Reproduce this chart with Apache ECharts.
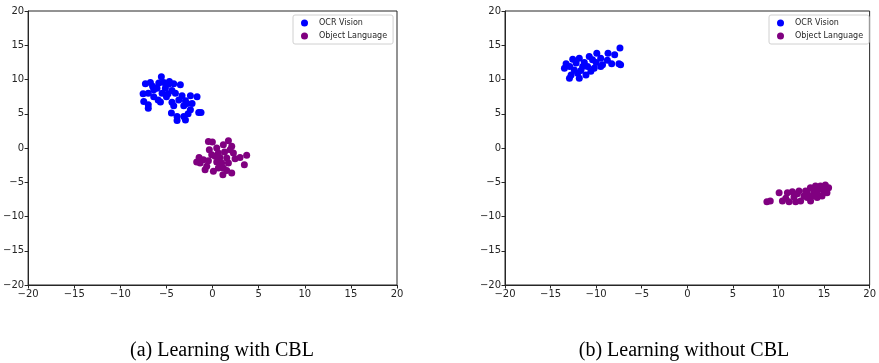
<!DOCTYPE html>
<html>
<head>
<meta charset="utf-8">
<script src="https://cdn.jsdelivr.net/npm/echarts@6/dist/echarts.min.js"></script>
<style>
  html, body { margin: 0; padding: 0; background: #fff; }
  #main { width: 879px; height: 363px; }
</style>
</head>
<body>
<div id="main"></div>
<script>
// (a) with CBL
const withOcr = [
  [-5.55, 10.4], [-7.28, 9.37], [-6.74, 9.57], [-5.83, 9.5], [-5.29, 9.57], [-4.68, 9.71],
  [-4.21, 9.37], [-3.49, 9.23], [-7.53, 7.92], [-6.97, 7.99], [-6.38, 8.5], [-6.02, 8.74],
  [-5.12, 8.74], [-4.4, 8.4], [-4.03, 8.0], [-4.82, 7.92], [-3.31, 7.62], [-2.4, 7.62],
  [-1.68, 7.5], [-7.46, 6.8], [-6.97, 6.3], [-6.97, 5.8], [-5.9, 7.0], [-5.65, 6.7],
  [-4.4, 6.67], [-4.21, 6.18], [-3.12, 6.18], [-2.76, 6.5], [-2.22, 6.5], [-2.94, 6.9],
  [-3.66, 7.0], [-4.46, 5.1], [-3.85, 4.6], [-3.85, 4.0], [-3.12, 4.6], [-2.65, 5.0],
  [-2.4, 5.6], [-1.5, 5.2], [-1.25, 5.2], [-2.94, 4.1], [-6.38, 7.5], [-5.47, 7.99],
  [-5.0, 7.5], [-6.5, 9.0], [-4.8, 9.3]
];
const withObj = [
  [-0.45, 0.96], [-0.02, 0.87], [1.72, 1.06], [1.17, 0.48], [2.08, 0.24], [0.45, 0.0],
  [-0.35, -0.24], [0.63, -0.73], [1.3, -0.58], [2.26, -0.73], [-0.09, -0.97], [0.8, -1.37],
  [1.54, -1.46], [2.44, -1.56], [3.7, -1.07], [2.98, -1.37], [-1.46, -1.37], [-0.99, -1.7],
  [-0.45, -1.85], [0.45, -2.04], [0.99, -2.19], [1.72, -2.19], [3.45, -2.43], [-1.35, -2.19],
  [-0.63, -2.68], [0.63, -2.92], [1.17, -2.92], [1.54, -3.3], [0.09, -3.4], [2.08, -3.65],
  [1.12, -3.89], [-0.81, -3.16], [-1.72, -2.04], [1.9, -0.24], [0.27, -1.2]
];
// (b) without CBL
const withoutOcr = [
  [-7.39, 14.6], [-9.93, 13.85], [-8.7, 13.85], [-7.97, 13.6], [-10.76, 13.36], [-9.5, 13.1],
  [-7.5, 12.3], [-8.3, 12.3], [-8.77, 12.8], [-10.0, 12.5], [-9.3, 12.15], [-11.85, 13.1],
  [-12.57, 12.97], [-13.3, 12.3], [-12.9, 11.9], [-13.48, 11.66], [-12.2, 12.4], [-11.3, 12.5],
  [-10.94, 11.9], [-10.22, 11.66], [-12.4, 11.4], [-11.67, 11.3], [-12.03, 10.9], [-12.75, 10.66],
  [-12.93, 10.2], [-11.85, 10.2], [-11.12, 10.66], [-10.58, 11.2], [-9.5, 11.9], [-7.32, 12.15],
  [-11.48, 11.9], [-10.4, 12.9]
];
const withoutObj = [
  [8.73, -7.83], [9.1, -7.73], [10.07, -6.52], [10.98, -6.52], [10.8, -7.35], [11.16, -7.83],
  [10.43, -7.73], [11.7, -7.15], [12.07, -6.67], [12.43, -7.73], [13.15, -7.24], [12.97, -6.28],
  [13.5, -5.79], [14.06, -5.55], [14.6, -5.55], [15.14, -5.4], [15.5, -5.79], [14.96, -6.28],
  [14.24, -6.52], [13.7, -7.0], [13.52, -7.73], [14.78, -7.0], [15.32, -6.52], [11.52, -6.4],
  [13.15, -6.52], [12.8, -7.0], [14.42, -6.0], [13.88, -6.28], [12.25, -6.28], [11.88, -7.83],
  [14.24, -7.24]
];
const seriesNames = ['OCR Vision', 'Object Language'];
const captions = ['(a) Learning with CBL', '(b) Learning without CBL'];

const blue = '#0000ff';
const purple = '#800080';
const axisColor = '#262626';

const chart = echarts.init(document.getElementById('main'));

function axis(gridIndex) {
  return {
    gridIndex: gridIndex,
    type: 'value',
    min: -20,
    max: 20,
    interval: 5,
    splitLine: { show: false },
    axisLine: { show: true, onZero: false, lineStyle: { color: axisColor, width: 1 } },
    axisTick: { show: true, length: 3.5, lineStyle: { color: axisColor } },
    axisLabel: {
      color: '#262626',
      fontFamily: 'DejaVu Sans',
      fontSize: 10,
      margin: 4,
      formatter: v => String(v).replace('-', '\u2212')
    }
  };
}

function legend(left) {
  return {
    data: seriesNames,
    orient: 'vertical',
    left: left,
    top: 15,
    padding: [4, 6, 4, 8],
    itemWidth: 7,
    itemHeight: 7,
    itemGap: 5,
    icon: 'circle',
    backgroundColor: '#fff',
    borderColor: '#d0d0d0',
    borderWidth: 1,
    borderRadius: 2,
    textStyle: {
      fontFamily: 'DejaVu Sans',
      fontSize: 8,
      color: '#262626',
      padding: [0, 0, 0, 6]
    }
  };
}

function scatter(name, data, color, idx) {
  return {
    name: name,
    type: 'scatter',
    xAxisIndex: idx,
    yAxisIndex: idx,
    data: data,
    symbolSize: 7,
    itemStyle: { color: color, opacity: 1 },
    animation: false
  };
}

chart.setOption({
  animation: false,
  grid: [
    { left: 28, top: 11, width: 369, height: 274, show: true, borderColor: axisColor, borderWidth: 1 },
    { left: 505, top: 11, width: 368, height: 274, show: true, borderColor: axisColor, borderWidth: 1 }
  ],
  xAxis: [axis(0), axis(1)],
  yAxis: [axis(0), axis(1)],
  legend: [legend(293), legend(769)],
  series: [
    scatter(seriesNames[0], withOcr, blue, 0),
    scatter(seriesNames[1], withObj, purple, 0),
    scatter(seriesNames[0], withoutOcr, blue, 1),
    scatter(seriesNames[1], withoutObj, purple, 1)
  ],
  graphic: [
    {
      type: 'text', x: 222, y: 351,
      style: { text: captions[0], fontFamily: 'Liberation Serif', fontSize: 20, fill: '#000', textAlign: 'center', textVerticalAlign: 'middle' }
    },
    {
      type: 'text', x: 684, y: 351,
      style: { text: captions[1], fontFamily: 'Liberation Serif', fontSize: 20, fill: '#000', textAlign: 'center', textVerticalAlign: 'middle' }
    }
  ]
});
</script>
</body>
</html>
